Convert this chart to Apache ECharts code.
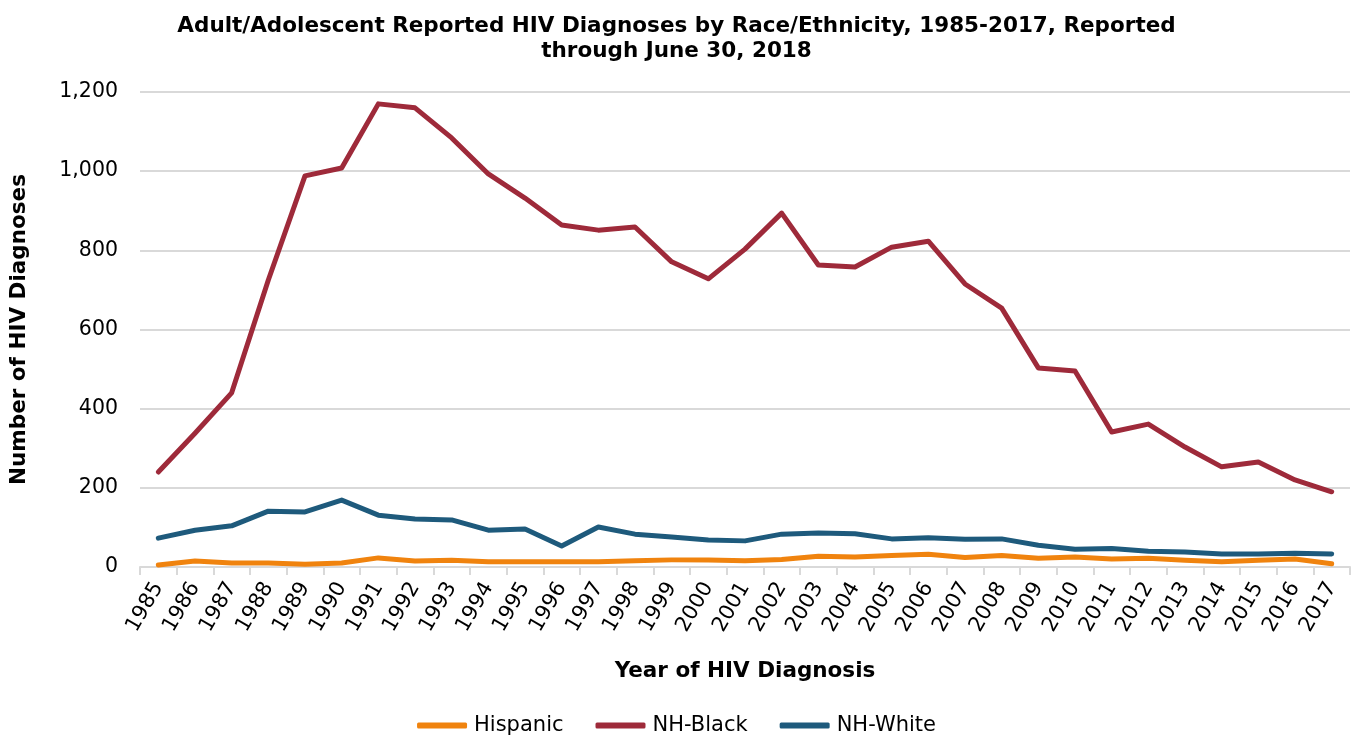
<!DOCTYPE html>
<html>
<head>
<meta charset="utf-8">
<title>HIV Diagnoses by Race/Ethnicity</title>
<script src="https://cdn.jsdelivr.net/npm/echarts@6/dist/echarts.min.js"></script>
<style>
    html, body { margin: 0; padding: 0; background: #fff; }
    #chart { width: 1353px; height: 747px; }
</style>
</head>
<body>
<div id="chart"></div>
<script>
// years on the x axis
var years = [];
for (var y = 1985; y <= 2017; y++) { years.push(String(y)); }

// values
var hispanic = [5, 15, 10, 10, 7, 10, 23, 15, 17, 13, 13, 13, 13, 16, 18, 18, 16, 19,
    27, 25, 29, 32, 24, 29, 22, 25, 20, 22, 17, 13, 17, 20, 8];
var nhBlack = [240, 338, 440, 725, 988, 1008, 1170, 1160, 1084, 993, 932, 864, 851, 859,
    771, 728, 803, 894, 763, 758, 808, 823, 715, 654, 503, 495, 341, 361, 303, 253, 265, 220, 190];
var nhWhite = [73, 93, 104, 141, 139, 169, 131, 121, 119, 93, 96, 53, 101, 83, 76, 68, 66,
    83, 86, 84, 71, 74, 70, 71, 55, 45, 47, 40, 38, 33, 33, 35, 33];

var yTicks = { min: 0, max: 1200, interval: 200 };

var FONT = 'DejaVu Sans';

function lineSeries(name, data, color) {
    return {
        name: name,
        type: 'line',
        data: data,
        symbol: 'none',
        lineStyle: { width: 5, color: color, cap: 'round', join: 'round' },
        itemStyle: { color: color }
    };
}

var myChart = echarts.init(document.getElementById('chart'), null, { renderer: 'canvas' });

var option = {
    backgroundColor: '#ffffff',
    animation: false,
    textStyle: { fontFamily: FONT },
    title: {
        text: 'Adult/Adolescent Reported HIV Diagnoses by Race/Ethnicity, 1985-2017, Reported\nthrough June 30, 2018',
        left: 'center',
        top: 9,
        textStyle: {
            fontFamily: FONT,
            fontWeight: 'bold',
            fontSize: 21.5,
            lineHeight: 25,
            align: 'center',
            color: '#000'
        }
    },
    grid: { left: 130, right: 3, top: 92, bottom: 180, containLabel: false },
    legend: {
        bottom: 6,
        left: 'center',
        icon: 'roundRect',
        itemWidth: 50,
        itemHeight: 6,
        itemGap: 32,
        textStyle: { fontFamily: FONT, fontSize: 21, color: '#000', padding: [0, 0, 0, 2] },
        data: ['Hispanic', 'NH-Black', 'NH-White']
    },
    xAxis: {
        type: 'category',
        data: years,
        boundaryGap: true,
        name: 'Year of HIV Diagnosis',
        nameLocation: 'middle',
        nameGap: 93,
        nameMoveOverlap: false,
        nameTextStyle: { fontFamily: FONT, fontWeight: 'bold', fontSize: 21.5, color: '#000' },
        axisLine: { lineStyle: { color: '#d9d9d9', width: 2 } },
        axisTick: { show: true, alignWithLabel: false, length: 8, lineStyle: { color: '#d9d9d9', width: 2 } },
        axisLabel: { rotate: 60, interval: 0, margin: 17, fontFamily: FONT, fontSize: 21, color: '#000' }
    },
    yAxis: {
        type: 'value',
        min: yTicks.min,
        max: yTicks.max,
        interval: yTicks.interval,
        name: 'Number of HIV Diagnoses',
        nameLocation: 'middle',
        nameGap: 110,
        nameMoveOverlap: false,
        nameTextStyle: { fontFamily: FONT, fontWeight: 'bold', fontSize: 21.5, color: '#000' },
        axisLine: { show: false },
        axisTick: { show: false },
        splitLine: { lineStyle: { color: '#d9d9d9', width: 2 } },
        axisLabel: {
            margin: 22,
            fontFamily: FONT,
            fontSize: 20.5,
            color: '#000',
            formatter: function (v) { return v.toLocaleString('en-US'); }
        }
    },
    series: [
        lineSeries('Hispanic', hispanic, '#F0830E'),
        lineSeries('NH-Black', nhBlack, '#9E2A3A'),
        lineSeries('NH-White', nhWhite, '#1E5A7C')
    ]
};
myChart.setOption(option);
</script>
</body>
</html>
